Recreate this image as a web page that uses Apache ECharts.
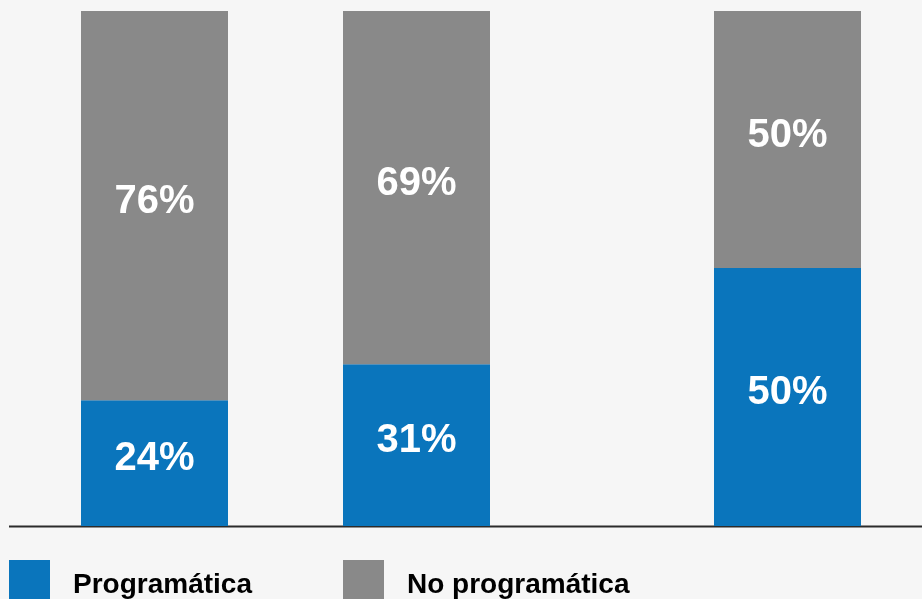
<!DOCTYPE html>
<html>
<head>
<meta charset="utf-8">
<script src="https://cdn.jsdelivr.net/npm/echarts@6/dist/echarts.min.js"></script>
<style>
html,body{margin:0;padding:0;background:#f6f6f6;}
#c{width:922px;height:599px;}
</style>
</head>
<body>
<div id="c"></div>
<script>
const categories = ['Grupo 1', 'Grupo 2', 'Grupo 3'];
const programatica = [24.4, 31.4, 50.1];
const noProgramatica = [75.6, 68.6, 49.9];
const seriesNames = ['Programática', 'No programática'];

const BLUE = '#0a75bc';
const GREY = '#898989';
const FONT = '"Liberation Sans", Arial, Helvetica, sans-serif';
const gridLefts = [81, 343, 714];
const barW = 147;

const grids = [], xAxes = [], yAxes = [], series = [];
categories.forEach((cat, i) => {
  grids.push({ left: gridLefts[i], width: barW, top: 11, bottom: 73, containLabel: false });
  xAxes.push({ type: 'category', gridIndex: i, data: [cat], show: false });
  yAxes.push({ type: 'value', gridIndex: i, min: 0, max: 100, show: false });
  const label = {
    show: true, position: 'inside', color: '#fff', fontSize: 40, fontWeight: 'bold',
    fontFamily: FONT, formatter: p => Math.round(p.value) + '%', offset: [0, -4]
  };
  series.push({
    name: seriesNames[0], type: 'bar', stack: 's' + i, xAxisIndex: i, yAxisIndex: i,
    barWidth: '100%', data: [programatica[i]], itemStyle: { color: BLUE }, label: label,
    silent: true
  });
  series.push({
    name: seriesNames[1], type: 'bar', stack: 's' + i, xAxisIndex: i, yAxisIndex: i,
    barWidth: '100%', data: [noProgramatica[i]], itemStyle: { color: GREY }, label: label,
    silent: true
  });
});

const legendText = { fontSize: 28, fontWeight: 'bold', color: '#000', fontFamily: FONT, padding: [0, 0, 0, 18] };
const chart = echarts.init(document.getElementById('c'), null, { renderer: 'canvas' });
chart.setOption({
  backgroundColor: '#f6f6f6',
  animation: false,
  grid: grids,
  xAxis: xAxes,
  yAxis: yAxes,
  legend: [
    { data: [seriesNames[0]], left: 9, top: 560, padding: 0, icon: 'rect', itemWidth: 41, itemHeight: 50, textStyle: legendText, selectedMode: false },
    { data: [seriesNames[1]], left: 343, top: 560, padding: 0, icon: 'rect', itemWidth: 41, itemHeight: 50, textStyle: legendText, selectedMode: false }
  ],
  graphic: [{
    type: 'line', shape: { x1: 9, y1: 526.5, x2: 922, y2: 526.5 },
    style: { stroke: '#2b2b2b', lineWidth: 2 }, silent: true
  }],
  series: series
});
</script>
</body>
</html>
